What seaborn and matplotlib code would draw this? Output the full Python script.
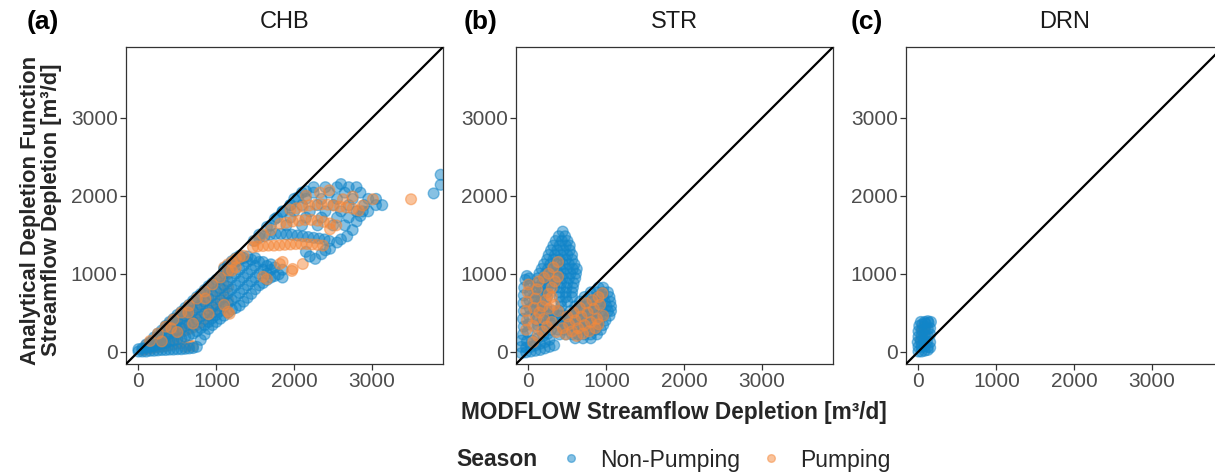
import matplotlib
matplotlib.use("Agg")
import matplotlib.pyplot as plt
import seaborn as sns
import pandas as pd
from matplotlib.lines import Line2D

sns.set_style("white")
plt.rcParams["font.family"] = ["Liberation Sans", "DejaVu Sans"]

# ---------------- data ----------------
seasons = ["Non-Pumping", "Pumping"]
panels = ["CHB", "STR", "DRN"]
panel_tags = ["(a)", "(b)", "(c)"]
tick_values = [0, 1000, 2000, 3000]
season_colors = {"Non-Pumping": "#1185C9", "Pumping": "#F5883A"}

# CHB, Non-Pumping (lower band)
chb_np_low_x = [0, 0, 50, 50, 100, 100, 100, 150, 150, 150, 200, 200, 200, 200,
                250, 250, 250, 250, 300, 300, 300, 300, 350, 350, 350, 350, 350,
                400, 400, 400, 400, 400, 450, 450, 450, 450, 450,
                500, 500, 500, 500, 500, 550, 550, 550, 550, 550,
                600, 600, 600, 600, 600, 650, 650, 650, 650, 650,
                700, 700, 700, 700, 700, 750, 750, 750, 750, 750,
                800, 800, 800, 800, 800, 850, 850, 850, 850, 850,
                900, 900, 900, 900, 900, 950, 950, 950, 950, 950,
                1000, 1000, 1000, 1000, 1000, 1050, 1050, 1050, 1050, 1050,
                1100, 1100, 1100, 1100, 1100, 1100, 1150, 1150, 1150, 1150, 1150, 1150,
                1200, 1200, 1200, 1200, 1200, 1200, 1250, 1250, 1250, 1250, 1250, 1250,
                1300, 1300, 1300, 1300, 1300, 1300, 1350, 1350, 1350, 1350, 1350,
                1400, 1400, 1400, 1400, 1400, 1450, 1450, 1450, 1450,
                1500, 1500, 1500, 1500, 1550, 1550, 1550, 1600, 1600, 1600,
                1650, 1650, 1650, 1700, 1700, 1700, 1750, 1750, 1800, 1850, 1850]
chb_np_low_y = [0, 30, 0, 40, 0, 50, 90, 10, 60, 120, 10, 70, 130, 180,
                15, 90, 160, 230, 20, 100, 180, 270, 20, 110, 200, 290, 330,
                25, 130, 230, 320, 380, 25, 140, 260, 350, 420,
                30, 160, 280, 390, 470, 30, 170, 300, 420, 510,
                35, 190, 330, 460, 560, 40, 210, 350, 490, 600,
                45, 230, 380, 520, 650, 60, 260, 410, 560, 700,
                150, 300, 450, 600, 740, 220, 340, 490, 640, 790,
                290, 380, 530, 680, 840, 340, 430, 570, 720, 880,
                380, 470, 610, 770, 920, 420, 520, 660, 810, 960,
                460, 570, 700, 850, 1000, 1060, 500, 620, 750, 900, 1050, 1100,
                540, 660, 800, 950, 1100, 1160, 560, 700, 850, 1000, 1150, 1200,
                590, 750, 900, 1050, 1180, 1230, 640, 800, 950, 1100, 1200,
                690, 850, 1000, 1150, 1220, 740, 900, 1050, 1180,
                800, 950, 1100, 1200, 850, 1000, 1150, 880, 1050, 1150,
                920, 1000, 1100, 950, 1050, 1120, 970, 1080, 990, 950, 1050]

# CHB, Non-Pumping (upper cluster)
chb_np_up_x = [1480, 1550, 1620, 1690, 1760, 1830, 1900, 1970, 2040, 2110, 2180,
               2250, 2320, 2390, 2450,
               2150, 2200, 2270, 2350, 2400, 2460, 2550, 2600, 2680, 2750, 2800,
               2850, 2880,
               1700, 1900, 2100, 2300, 2500, 2650,
               1780, 1950, 2150, 2350, 2550, 2700,
               1850, 2000, 2200, 2400, 2600, 2800, 2950,
               1950, 2100, 2300, 2500, 2700, 2900, 3050, 3130,
               2000, 2150, 2350, 2550, 2750, 2950, 3050,
               2100, 2250, 2450, 2650, 2850,
               2250, 2400, 2550, 2700, 2800, 2600,
               1550, 1650, 1750, 1850, 1950, 2050, 2150,
               3790, 3880, 3880]
chb_np_up_y = [1420, 1460, 1480, 1500, 1510, 1510, 1505, 1500, 1490, 1480, 1470,
               1460, 1450, 1440, 1420,
               1280, 1220, 1190, 1250, 1300, 1320, 1400, 1440, 1480, 1560, 1670,
               1740, 1800,
               1620, 1620, 1620, 1620, 1620, 1620,
               1720, 1720, 1720, 1720, 1720, 1720,
               1800, 1800, 1800, 1800, 1800, 1800, 1800,
               1880, 1880, 1880, 1880, 1880, 1880, 1880, 1880,
               1960, 1960, 1960, 1960, 1960, 1960, 1960,
               2040, 2040, 2040, 2040, 2040,
               2110, 2110, 2110, 2110, 2110, 2150,
               1500, 1600, 1700, 1790, 1880, 1980, 2060,
               2030, 2140, 2270]

# CHB, Pumping (lower band, under the blue)
chb_p_low_x = [50, 100, 100, 150, 150, 200, 200, 250, 250, 250, 300, 300, 300,
               350, 350, 350, 350, 400, 400, 400, 400, 450, 450, 450, 450,
               500, 500, 500, 500, 550, 550, 550, 550, 600, 600, 600, 600,
               650, 650, 650, 650, 700, 700, 700, 700, 750, 750, 750,
               800, 800, 800, 850, 850, 850, 900, 900, 900, 950, 950, 950,
               1000, 1000, 1000, 1050, 1050, 1050, 1100, 1100, 1100, 1100,
               1150, 1150, 1150, 1150]
chb_p_low_y = [20, 30, 80, 40, 110, 50, 150, 60, 120, 200, 60, 150, 240,
               70, 170, 260, 320, 80, 190, 290, 360, 90, 210, 320, 400,
               100, 230, 350, 440, 110, 250, 380, 490, 60, 270, 410, 530,
               80, 290, 440, 570, 70, 310, 470, 620, 340, 500, 660,
               370, 540, 700, 420, 580, 750, 460, 620, 800, 500, 660, 840,
               540, 700, 880, 580, 740, 920, 620, 790, 960, 1080,
               660, 830, 1000, 1120]
# CHB, Pumping (strands drawn over the blue)
chb_p_top_x = [150, 250, 350, 450, 550, 650, 750, 850, 950, 1050, 1150,
               300, 500, 700, 900, 1100, 420, 640, 860,
               1200, 1250, 1300, 1350, 1200, 1250,
               1170, 1650, 1850, 1980, 2110, 1815, 1600, 1150, 1970]
chb_p_top_y = [135, 230, 320, 410, 500, 590, 680, 770, 860, 950, 1040,
               130, 250, 360, 480, 600, 300, 500, 680,
               1150, 1190, 1210, 1230, 1040, 1080,
               485, 930, 1150, 1060, 1124, 1124, 960, 510, 1035]
# CHB, Pumping (upper cluster)
chb_p_up_x = [1470, 1530, 1600, 1670, 1740, 1810, 1880, 1950, 2020, 2090, 2160,
              2230, 2300, 2370,
              1820, 1900, 1980, 2060, 2140, 2220, 2300, 2380, 2460, 2540,
              1950, 2030, 2110, 2190, 2270, 2350, 2430, 2510, 2590, 2670, 2750, 2830,
              2150, 2330, 2450, 2625, 2750, 2880, 3010, 2460,
              1600, 1700, 1500, 3500]
chb_p_up_y = [1340, 1350, 1355, 1360, 1360, 1365, 1370, 1375, 1380, 1380, 1380,
              1375, 1370, 1360,
              1640, 1655, 1670, 1680, 1690, 1690, 1680, 1665, 1645, 1620,
              1820, 1840, 1860, 1875, 1885, 1890, 1885, 1875, 1860, 1850, 1835, 1810,
              2000, 2040, 2070, 1955, 1990, 1875, 1955, 1570,
              1500, 1560, 1420, 1955]

# STR, Non-Pumping
str_np_x = [-90, -30, 30, 90, 150, 210, 270, 330, -90, -30, 30, 90, 150, 210, 270,
            -90, -20, 50, 120, 190, 250,
            -70, -60, -70, -60, -65, -60, -55, -40, -20, 10, 20, 20, 15, 20, 10, 0, -10,
            440, 390, 470, 350, 430, 500, 320, 400, 480, 530, 290, 370, 450, 530,
            260, 340, 420, 500, 560, 240, 320, 400, 480, 560,
            200, 280, 360, 440, 520, 590, 170, 250, 330, 410, 490, 570, 620,
            140, 220, 300, 380, 460, 540, 610, 120, 200, 280, 360, 440, 520, 600,
            100, 180, 260, 340, 420, 500, 580, 90, 170, 250, 330, 410, 490, 570,
            80, 160, 240, 400, 480, 560, 80, 160, 240, 400, 480, 560,
            80, 160, 420, 500, 80, 150, 230, 420, 90, 160, 240, 320, 400,
            100, 180, 260, 340, 420, 110, 190, 270, 350, 120, 200, 280, 130, 210, 290,
            900, 960, 800, 880, 960, 1020, 720, 800, 880, 960, 1040,
            660, 740, 820, 900, 980, 1050, 600, 680, 760, 840, 920, 1000, 1060,
            540, 620, 700, 780, 860, 940, 1020, 1060,
            480, 560, 640, 720, 800, 880, 960, 1040,
            430, 510, 590, 670, 750, 830, 910, 990,
            400, 480, 560, 640, 720, 800, 880, 960,
            380, 460, 540, 620, 700, 780, 860, 930,
            400, 480, 560, 640, 720, 800, 880, 600, 700, 800]
str_np_y = [-20, -10, 0, 10, 20, 40, 60, 80, 60, 50, 60, 80, 100, 120, 150,
            140, 130, 140, 170, 200, 230,
            220, 320, 420, 520, 620, 720, 820, 920, 970, 940, 850, 750, 650, 550, 450, 350, 250,
            1540, 1480, 1480, 1420, 1420, 1420, 1360, 1360, 1360, 1360, 1300, 1300, 1300, 1300,
            1240, 1240, 1240, 1240, 1240, 1180, 1180, 1180, 1180, 1180,
            1120, 1120, 1120, 1120, 1120, 1120, 1060, 1060, 1060, 1060, 1060, 1060, 1060,
            1000, 1000, 1000, 1000, 1000, 1000, 1000, 940, 940, 940, 940, 940, 940, 940,
            880, 880, 880, 880, 880, 880, 880, 820, 820, 820, 820, 820, 820, 820,
            760, 760, 760, 760, 760, 760, 700, 700, 700, 700, 700, 700,
            640, 640, 640, 640, 580, 580, 580, 580, 520, 520, 520, 520, 520,
            460, 460, 460, 460, 460, 400, 400, 400, 400, 340, 340, 340, 280, 280, 280,
            820, 820, 760, 760, 760, 760, 700, 700, 700, 700, 700,
            640, 640, 640, 640, 640, 640, 580, 580, 580, 580, 580, 580, 580,
            520, 520, 520, 520, 520, 520, 520, 520,
            460, 460, 460, 460, 460, 460, 460, 460,
            400, 400, 400, 400, 400, 400, 400, 400,
            340, 340, 340, 340, 340, 340, 340, 340,
            280, 280, 280, 280, 280, 280, 280, 280,
            220, 220, 220, 220, 220, 220, 220, 170, 170, 170]

# STR, Pumping
str_p_x = [-30, -20, -30, -20, -10, 0,
           60, 120, 180, 240, 300, 60, 100, 140, 180, 220, 260, 300, 340, 380,
           70, 90, 110, 130, 200, 260, 320, 380, 300, 330, 380, 270, 200,
           360, 440, 520, 600, 680, 760, 840, 920, 480, 560, 640, 720, 800, 880, 960,
           500, 580, 660, 740, 820, 900, 950, 620, 700, 780, 860, 900]
str_p_y = [280, 400, 520, 640, 760, 860,
           120, 200, 260, 320, 380, 330, 420, 500, 580, 660, 740, 820, 900, 960,
           560, 680, 800, 900, 950, 1000, 1080, 1150, 700, 600, 520, 550, 420,
           250, 300, 350, 400, 450, 500, 550, 600, 220, 260, 300, 340, 380, 420, 460,
           450, 500, 560, 620, 660, 700, 750, 200, 230, 260, 300, 350]

# DRN, Non-Pumping
drn_np_x = [0, 40, 80, 120, 0, 40, 80, 120, 150, -10, 30, 70, 110, 150,
            0, 40, 80, 120, 150, 0, 40, 80, 120, 150, 10, 50, 90, 130, 160,
            30, 80, 120]
drn_np_y = [0, 0, 10, 20, 60, 60, 70, 60, 50, 120, 130, 140, 130, 120,
            190, 200, 210, 200, 220, 260, 270, 280, 290, 300, 330, 350, 360, 370, 380,
            380, 380, 390]

# DRN, Pumping
drn_p_x = [30, 60, 90, 50, 100]
drn_p_y = [150, 250, 320, 300, 180]

series = {
    "CHB": [("Pumping", chb_p_low_x, chb_p_low_y),
            ("Non-Pumping", chb_np_low_x, chb_np_low_y),
            ("Pumping", chb_p_top_x, chb_p_top_y),
            ("Non-Pumping", chb_np_up_x, chb_np_up_y),
            ("Pumping", chb_p_up_x, chb_p_up_y)],
    "STR": [("Non-Pumping", str_np_x, str_np_y), ("Pumping", str_p_x, str_p_y)],
    "DRN": [("Pumping", drn_p_x, drn_p_y), ("Non-Pumping", drn_np_x, drn_np_y)],
}

frames = []
for bc, parts in series.items():
    for season, xs, ys in parts:
        frames.append(pd.DataFrame({"BC": bc, "Season": season,
                                    "modflow": xs, "analytical": ys}))
df = pd.concat(frames, ignore_index=True)

# ---------------- figure ----------------
W, H = 1215, 472
fig = plt.figure(figsize=(W / 100, H / 100), dpi=100)

lim = (-160, 3910)
lefts = [126, 516, 906]
pw = 317
top, bottom = 47, 364
tag_x = [43, 481, 867]

for i, bc in enumerate(panels):
    ax = fig.add_axes([lefts[i] / W, 1 - bottom / H, pw / W, (bottom - top) / H])
    sub = df[df["BC"] == bc]
    sns.scatterplot(data=sub, x="modflow", y="analytical", hue="Season",
                    palette=season_colors, s=60, alpha=0.5, edgecolor="face",
                    linewidth=1.0, legend=False, ax=ax, zorder=2)
    ax.axline((0, 0), slope=1, color="black", lw=1.6, zorder=3)
    ax.set_xlim(lim)
    ax.set_ylim(lim)
    ax.set_xticks(tick_values)
    ax.set_yticks(tick_values)
    ax.set_xlabel("")
    ax.set_ylabel("")
    for sp in ax.spines.values():
        sp.set_color("#333333")
        sp.set_linewidth(0.9)
    ax.tick_params(axis="both", direction="out", length=4, width=0.9,
                   color="#333333", labelcolor="#4D4D4D", labelsize=15, pad=2)
    ax.tick_params(bottom=True, left=True)
    cx = (lefts[i] + pw / 2) / W
    fig.text(cx, 1 - 22 / H, bc, ha="center", va="center", fontsize=17,
             color="#1A1A1A")
    fig.text(tag_x[i] / W, 1 - 22 / H, panel_tags[i], ha="center", va="center",
             fontsize=19, fontweight="bold", color="black")

fig.text(41 / W, 1 - 210 / H,
         "Analytical Depletion Function\nStreamflow Depletion [m³/d]",
         rotation=90, ha="center", va="center", multialignment="center",
         fontsize=15.8, fontweight="bold", linespacing=1.0)
fig.text(674 / W, 1 - 412 / H, "MODFLOW Streamflow Depletion [m³/d]",
         ha="center", va="center", fontsize=16.3, fontweight="bold")

# legend
fig.text(497 / W, 1 - 460 / H, "Season", ha="center", va="center",
         fontsize=16.5, fontweight="bold")
handles = [Line2D([], [], marker="o", linestyle="", markersize=5.5,
                  markerfacecolor=season_colors[s], markeredgecolor=season_colors[s],
                  alpha=0.5) for s in seasons]
fig.legend(handles, seasons, loc="center left", bbox_to_anchor=(558 / W, 1 - 460 / H),
           ncol=2, frameon=False, fontsize=16.5, handlelength=1.1,
           handletextpad=0.72, columnspacing=0.8, borderaxespad=0, borderpad=0)

fig.savefig("out.png", dpi=100)
